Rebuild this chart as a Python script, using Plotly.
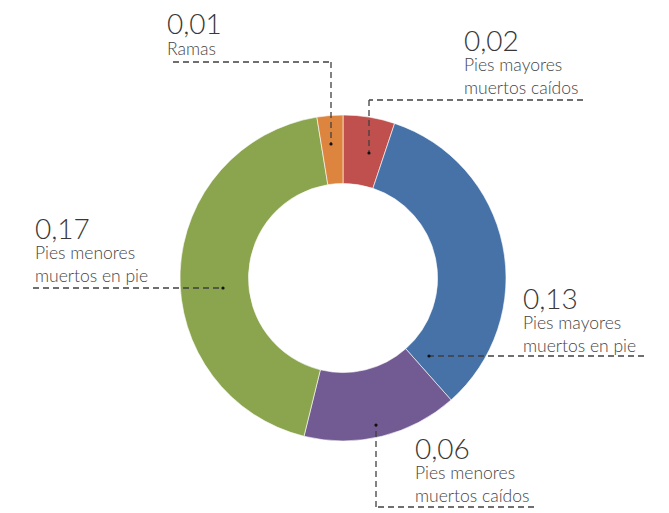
import plotly.graph_objects as go

W, H = 669, 513

# ---- data ----
categories = ["Pies mayores muertos caídos", "Pies mayores muertos en pie",
              "Pies menores muertos caídos", "Pies menores muertos en pie", "Ramas"]
values = [0.02, 0.13, 0.06, 0.17, 0.01]
colors = ["#C0504D", "#4672A8", "#725A92", "#8AA54E", "#DD843F"]

def px(x):
    return x / W

def py(y):
    return 1 - y / H

# ---- layout constants (pixels) ----
cx, cy, R = 343, 278, 163
# text left x, number baseline, last label baseline
text_pos = {
    "Pies mayores muertos caídos": (463, 50, 94.5),
    "Pies mayores muertos en pie": (522, 308, 352),
    "Pies menores muertos caídos": (414, 458, 502),
    "Pies menores muertos en pie": (34, 238, 282),
    "Ramas": (166, 33, 55),
}
# leader polylines (pixels), last point gets a dot
leaders = {
    "Ramas": [(173, 62), (331, 62), (331, 144)],
    "Pies mayores muertos caídos": [(583, 100), (369, 100), (369, 153)],
    "Pies menores muertos en pie": [(33, 288), (223, 288)],
    "Pies mayores muertos en pie": [(644, 356), (429, 356)],
    "Pies menores muertos caídos": [(534, 507), (376, 507), (376, 425)],
}

fig = go.Figure()
fig.add_trace(go.Pie(
    labels=categories, values=values, sort=False, direction="clockwise",
    rotation=0, hole=0.58, textinfo="none", hoverinfo="label+value",
    marker=dict(colors=colors, line=dict(color="#FFFFFF", width=0.6)),
    domain=dict(x=[px(cx - R), px(cx + R)], y=[py(cy + R), py(cy - R)]),
    showlegend=False,
))

NUM_SIZE, LAB_SIZE = 28, 17.5
annotations = []
for cat, val in zip(categories, values):
    lx, nb, lb = text_pos[cat]
    annotations.append(dict(
        x=px(lx), y=py(nb + NUM_SIZE * 0.27), xref="paper", yref="paper",
        xanchor="left", yanchor="bottom", showarrow=False,
        text=f"{val:.2f}".replace(".", ","),
        font=dict(family="Lato", size=NUM_SIZE, color="#383838", weight=300),
        borderpad=0,
    ))
    words = cat.split(" ")
    lines = [" ".join(words[:2]), " ".join(words[2:])] if len(words) > 2 else [cat]
    annotations.append(dict(
        x=px(lx), y=py(lb + LAB_SIZE * 0.27), xref="paper", yref="paper",
        xanchor="left", yanchor="bottom", align="left", showarrow=False,
        text="<br>".join(lines),
        font=dict(family="Lato", size=LAB_SIZE, color="#454545", weight=300),
        borderpad=0,
    ))

shapes = []
for cat, pts in leaders.items():
    for (x0, y0), (x1, y1) in zip(pts[:-1], pts[1:]):
        shapes.append(dict(type="line", xref="paper", yref="paper",
                           x0=px(x0), y0=py(y0), x1=px(x1), y1=py(y1),
                           line=dict(color="#404040", width=1.3, dash="6px,4px")))
    ex, ey = pts[-1]
    shapes.append(dict(type="circle", xref="paper", yref="paper",
                       x0=px(ex - 1.6), x1=px(ex + 1.6), y0=py(ey + 1.6), y1=py(ey - 1.6),
                       fillcolor="#111111", line=dict(width=0)))

fig.update_layout(
    width=W, height=H, margin=dict(l=0, r=0, t=0, b=0),
    paper_bgcolor="#FFFFFF", plot_bgcolor="#FFFFFF",
    annotations=annotations, shapes=shapes,
    font=dict(family="Lato"),
)
fig.write_html("out.html", config={"displayModeBar": False},
               post_script="document.body.style.margin='0';")
